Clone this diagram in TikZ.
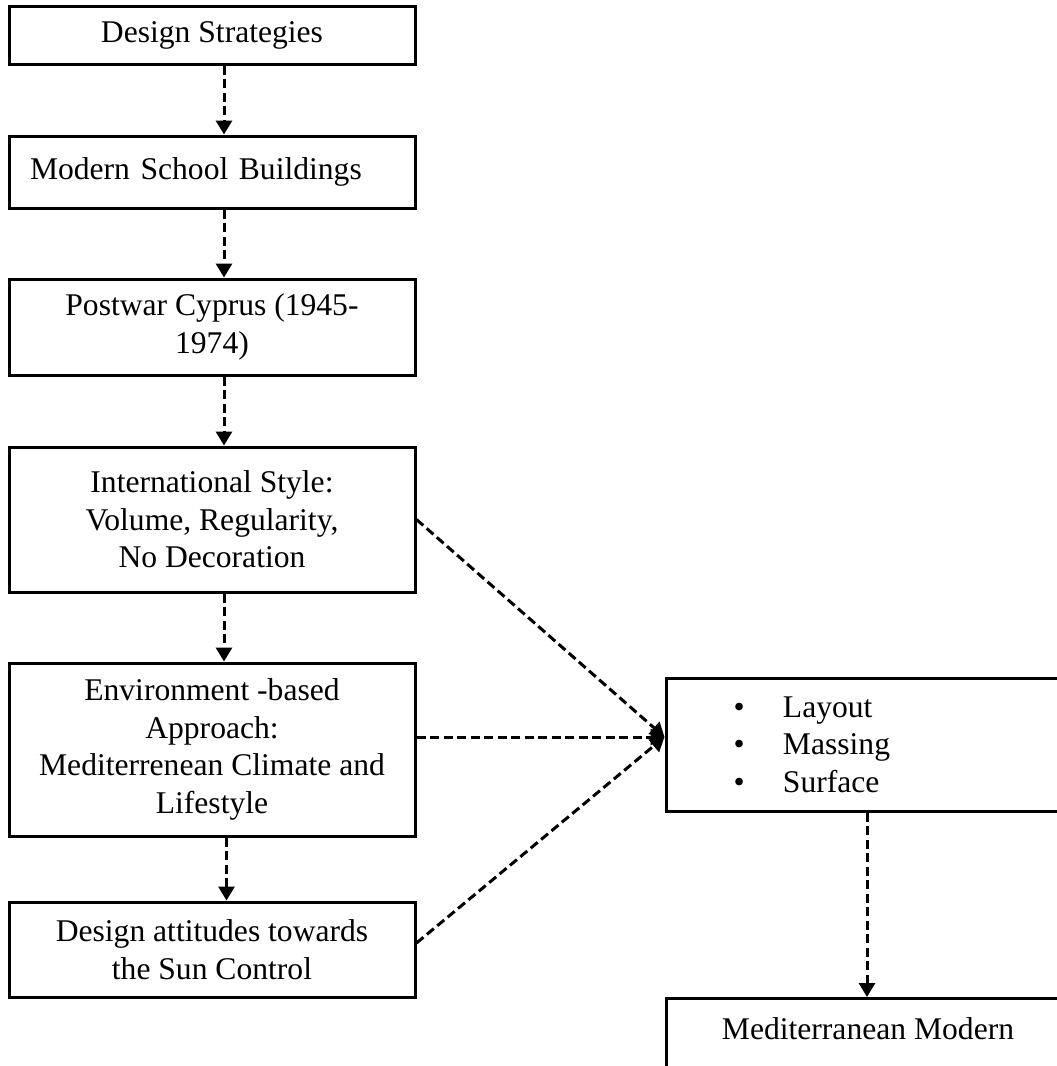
\documentclass[tikz,border=0pt]{standalone}
\usepackage{fontspec}
\setmainfont{Liberation Serif}
\usetikzlibrary{arrows.meta}
\begin{document}
\begin{tikzpicture}[x=1pt,y=-1pt,
  box/.style={draw, line width=3pt, inner sep=0pt, minimum width=406pt, align=center,
    font=\fontsize{31.6}{37.5}\selectfont},
  flow/.style={line width=3pt, dash pattern=on 9pt off 4.5pt,
    -{Triangle[width=16pt,length=14pt]}}
]
\fill[white] (0,0) rectangle (1057,1066);
\useasboundingbox (0,0) rectangle (1057,1066);
\clip (0,0) rectangle (1057,1066);

\node[box, minimum height=58pt] (n1) at (212,35) {Design Strategies};
\node[box, minimum height=72pt, text width=364pt, inner xsep=21pt, align=left] (n2) at (212,172) {Modern School Buildings};
\node[box, minimum height=96pt] (n3) at (212,327) {Postwar Cyprus (1945-\\1974)};
\node[box, minimum height=145pt] (n4) at (212,519.5) {International Style:\\Volume, Regularity,\\No Decoration};
\node[box, minimum height=173pt] (n5) at (212,749.5) {Environment -based\\Approach:\\Mediterrenean Climate and\\Lifestyle};
\node[box, minimum height=95pt] (n6) at (212,949.5) {Design attitudes towards\\the Sun Control};
\node[box, minimum height=133pt, minimum width=404pt, text width=269pt, inner xsep=67.5pt, align=left] (n7) at (868,744.5)
  {\makebox[49.5pt][l]{\textbullet}Layout\\\makebox[49.5pt][l]{\textbullet}Massing\\\makebox[49.5pt][l]{\textbullet}Surface};
\node[box, anchor=north, minimum width=404pt, text height=41pt, text depth=60pt] (n8) at (868,997) {Mediterranean Modern};

\draw[flow] ([xshift=12pt]n1.south) -- ([xshift=12pt]n2.north);
\draw[flow] ([xshift=12pt]n2.south) -- ([xshift=12pt]n3.north);
\draw[flow] ([xshift=12pt]n3.south) -- ([xshift=12pt]n4.north);
\draw[flow] ([xshift=12pt]n4.south) -- ([xshift=12pt]n5.north);
\draw[flow] ([xshift=14.5pt]n5.south) -- ([xshift=14.5pt]n6.north);
\coordinate (hub) at ([yshift=7.5pt]n7.west);
\draw[flow] (n4.east) -- (hub);
\draw[flow] ([yshift=12.5pt]n5.east) -- (hub);
\draw[flow] ([yshift=6.5pt]n6.east) -- (hub);
\draw[flow] ([xshift=-1pt]n7.south) -- ([xshift=-1pt]n8.north);
\end{tikzpicture}
\end{document}
